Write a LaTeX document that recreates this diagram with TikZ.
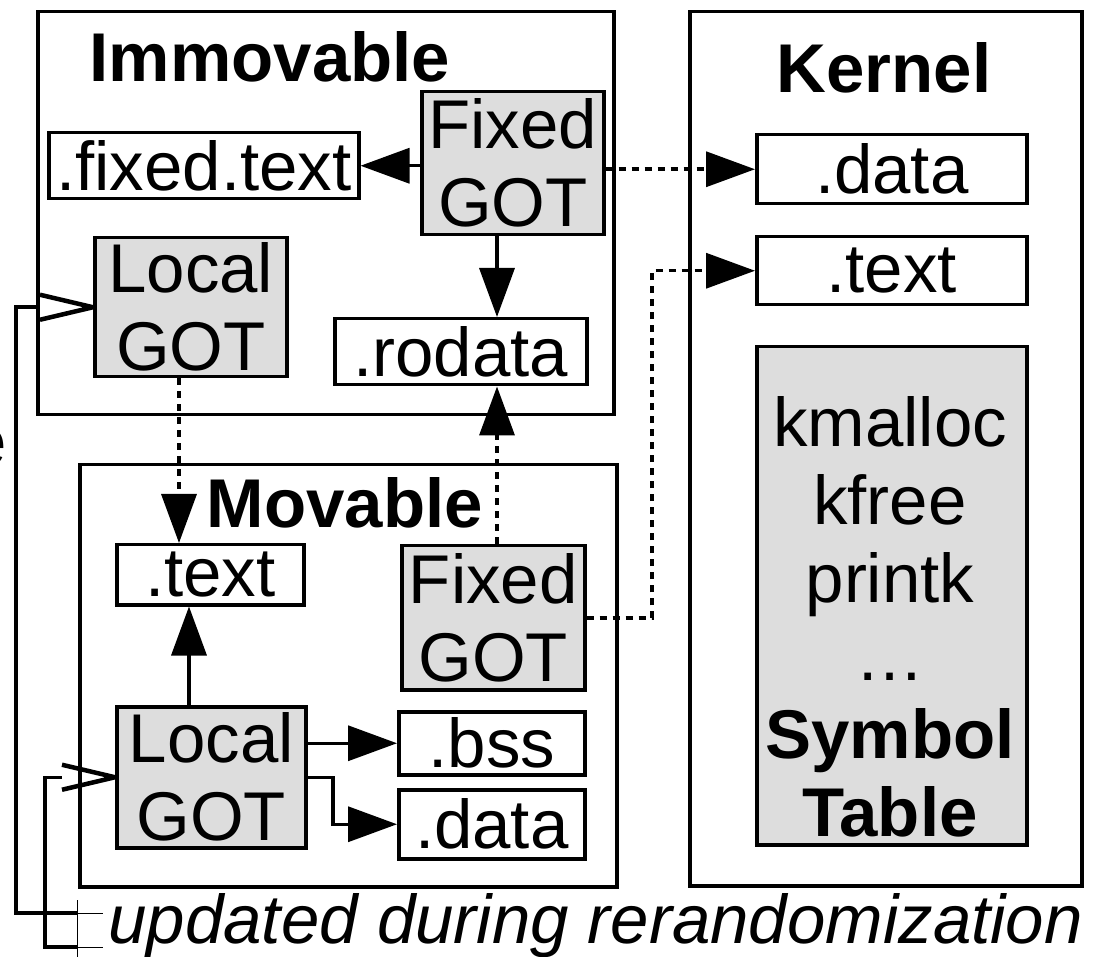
\documentclass[tikz,border=0pt]{standalone}
\usepackage{fontspec}
\setmainfont{Liberation Sans}
\usetikzlibrary{arrows.meta}
\definecolor{gotgray}{RGB}{221,221,221}

\begin{document}
\begin{tikzpicture}[x=1pt,y=-1pt,
  every node/.style={font=\fontsize{69}{78}\selectfont},
  region/.style={draw, line width=3.5pt, inner sep=0pt, anchor=north west},
  sec/.style={draw, line width=3.5pt, inner sep=0pt, anchor=north west, align=center, fill=white},
  got/.style={sec, fill=gotgray},
  title/.style={font=\fontsize{69}{78}\selectfont\bfseries, anchor=base},
  wire/.style={line width=3.5pt},
  link/.style={wire, -{Triangle[length=49pt,width=35pt]}},
  ptr/.style={link, dash pattern=on 7pt off 6pt},
  hair/.style={line width=1pt},
  barb/.style={line width=4.5pt, line join=round},
]
\useasboundingbox (0,0) rectangle (1096,957);

% the three memory regions
\node[region, minimum width=576pt, minimum height=403pt] (imm) at (36,10) {};
\node[region, minimum width=392pt, minimum height=874pt] (kern) at (688,10) {};
\node[region, minimum width=537pt, minimum height=422pt] (mov) at (78,463) {};

\node[title] (immtitle) at (270,82) {Immovable};
\node[title] (kerntitle) at (884,93) {Kernel};
\node[title] (movtitle) at (345,528) {Movable};

% immovable part
\node[sec, minimum width=310pt, minimum height=66pt] (ftext) at (47,131) {.fixed.text};
\node[got, minimum width=182pt, minimum height=143pt] (igot) at (420,90) {Fixed\\GOT};
\node[got, minimum width=192pt, minimum height=139pt] (lgot1) at (93,236) {Local\\GOT};
\node[sec, minimum width=252pt, minimum height=66pt] (rodata) at (333,317) {.rodata};

% kernel
\node[sec, minimum width=270pt, minimum height=69pt] (kdata) at (755,133) {.data};
\node[sec, minimum width=270pt, minimum height=68pt] (ktext) at (755,235) {.text};
\node[got, minimum width=270pt, minimum height=498pt] (symtab) at (755,345) {};
\node[align=center] (symtext) at (890,617)
  {kmalloc\\kfree\\printk\\…\\\textbf{Symbol}\\\textbf{Table}};

% movable part
\node[sec, minimum width=187pt, minimum height=60pt] (mtext) at (115,543) {.text};
\node[got, minimum width=183pt, minimum height=144pt] (mgot) at (400,544) {Fixed\\GOT};
\node[got, minimum width=189pt, minimum height=141pt] (lgot2) at (115,705) {Local\\GOT};
\node[sec, minimum width=186pt, minimum height=63pt] (bss) at (397,710) {.bss};
\node[sec, minimum width=186pt, minimum height=69pt] (mdata) at (397,788) {.data};

% text cut at the left margin
\node[anchor=base east] (cut) at (10,466) {e};

% routing columns
\coordinate (rx) at (497,0);
\coordinate (dx) at (179,0);
\coordinate (sx) at (189,0);
\coordinate (jx) at (652,0);
\coordinate (bx) at (333,0);
\coordinate (lx1) at (16,0);
\coordinate (lx2) at (45,0);
\coordinate (leg1) at (77,913);
\coordinate (leg2) at (77,947);

% references
\draw[link] (igot.west |- ftext.east) -- (ftext.east);
\draw[link] (igot.south -| rx) -- (rodata.north -| rx);
\draw[ptr] (igot.east |- kdata.west) -- (kdata.west);
\draw[ptr] (mgot.east) -- (mgot.east -| jx) |- (ktext.west);
\draw[ptr] (mgot.north -| rx) -- (rodata.south -| rx);
\draw[ptr] (lgot1.south -| dx) -- (mtext.north -| dx);
\draw[link] (lgot2.north -| sx) -- (mtext.south -| sx);
\draw[link] (lgot2.east |- bss.west) -- (bss.west);
\draw[link] (lgot2.east) -- (lgot2.east -| bx) |- (mdata.west);

% tables rewritten during rerandomization
\draw[wire] (leg1) -| (lx1 |- lgot1.west) -- ([xshift=-53pt]lgot1.west);
\draw[barb] ([xshift=-53pt,yshift=12.5pt]lgot1.west) -- (lgot1.west)
  -- ([xshift=-53pt,yshift=-12.5pt]lgot1.west);
\draw[wire] (leg2) -| (lx2 |- lgot2.west) -- ([xshift=-53pt]lgot2.west);
\draw[barb] ([xshift=-53pt,yshift=12.5pt]lgot2.west) -- (lgot2.west)
  -- ([xshift=-53pt,yshift=-12.5pt]lgot2.west);
\draw[hair] (leg1) -- ++(26,0);
\draw[hair] (leg2) -- ++(26,0);
\draw[hair] (77,900) -- (77,957);

\node[anchor=base west, font=\fontsize{69}{78}\selectfont\itshape] (legend) at (105,943)
  {updated during rerandomization};
\end{tikzpicture}
\end{document}
